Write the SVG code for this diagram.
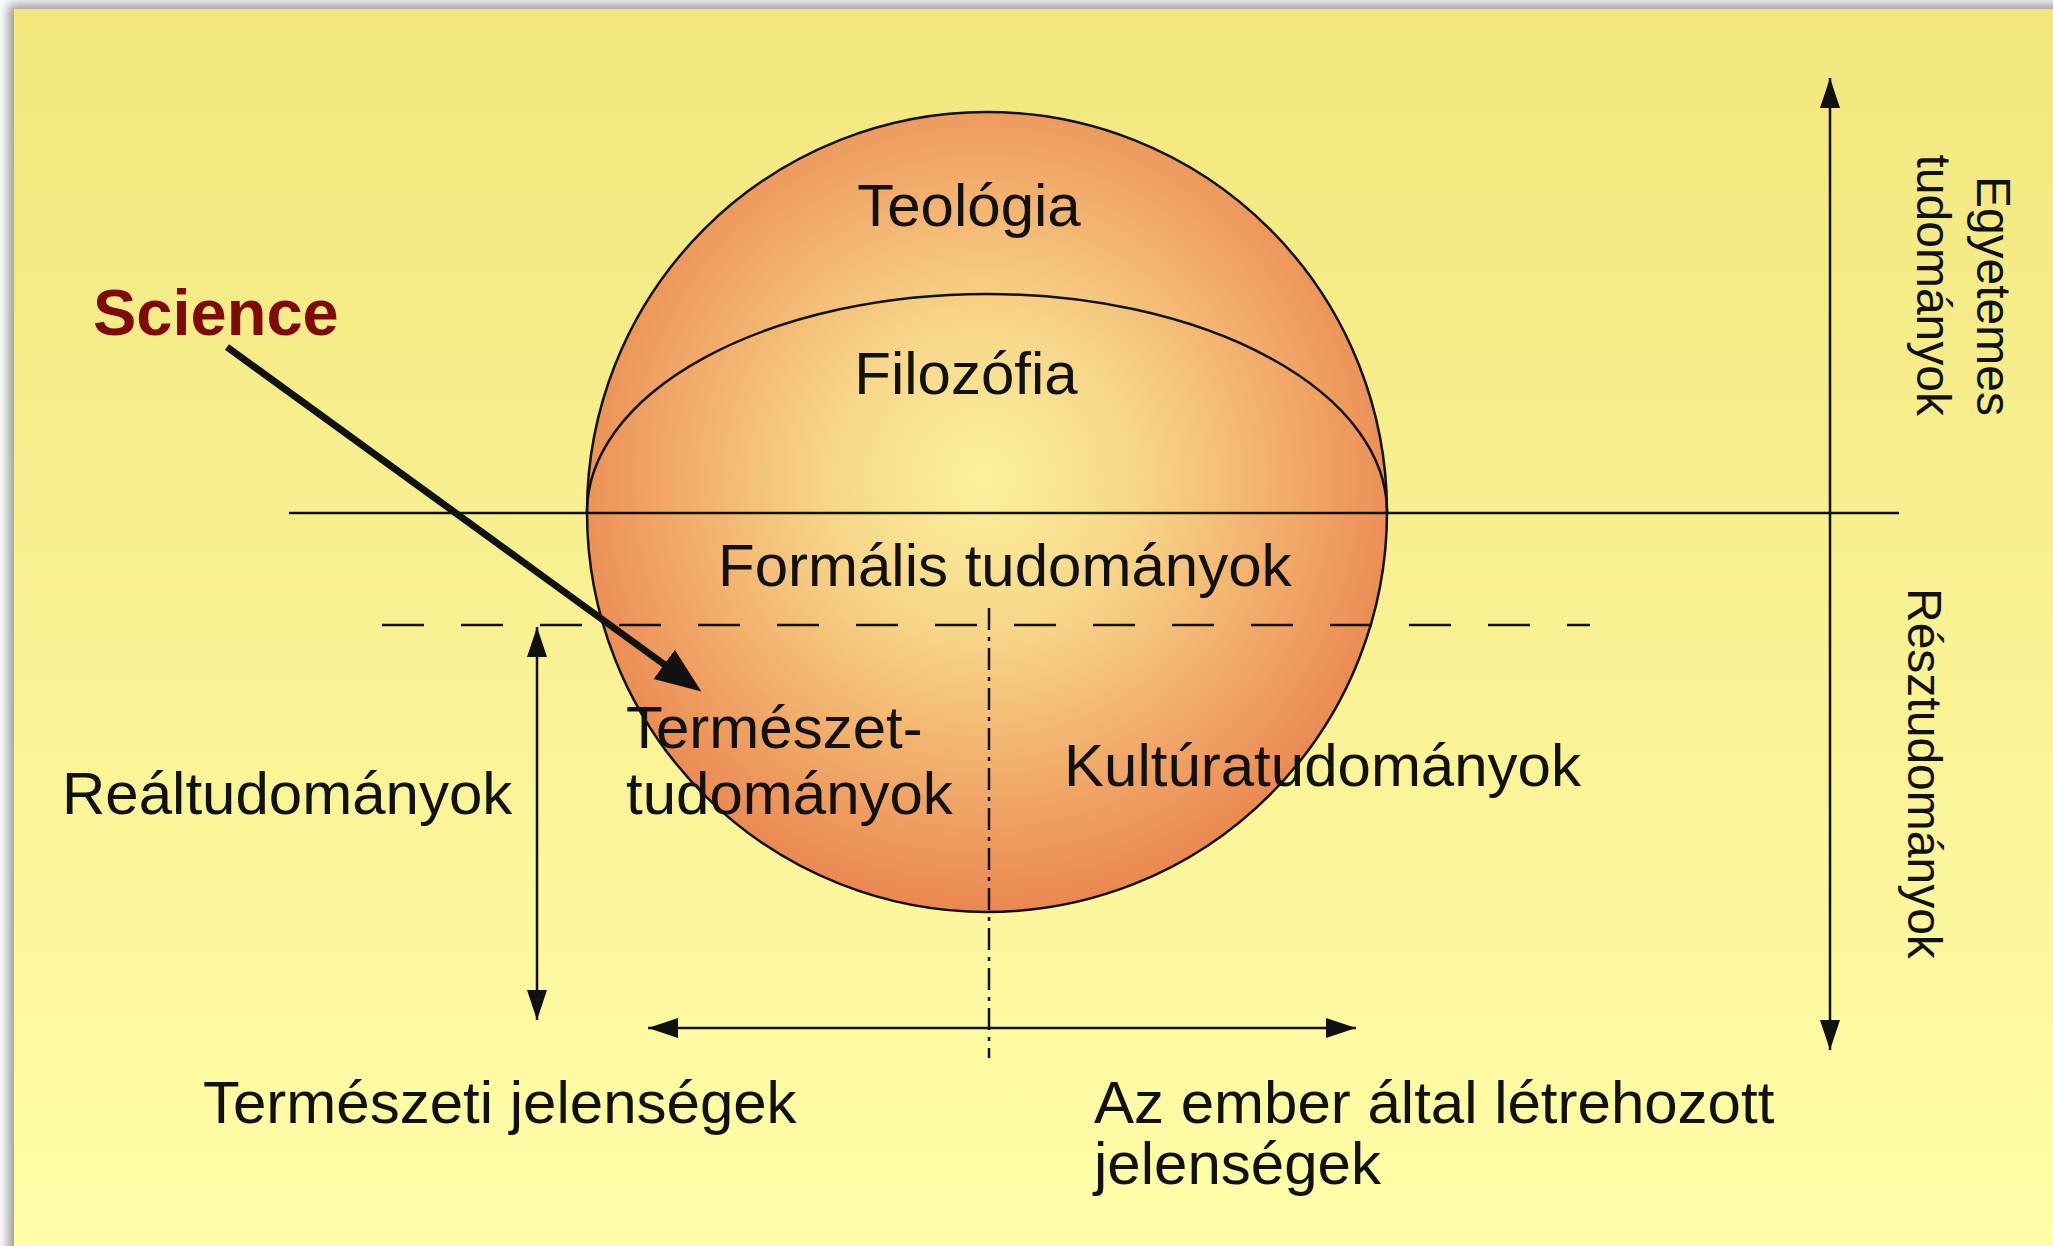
<svg xmlns="http://www.w3.org/2000/svg" width="2053" height="1246" viewBox="0 0 2053 1246">
<style>
text { font-family: "Liberation Sans", Arial, sans-serif; fill: #111; }
.lbl { font-size: 60px; }
.vlbl { font-size: 48px; }
.thin { stroke: #111; stroke-width: 2.5; fill: none; }
</style>
<defs>
<linearGradient id="bg" x1="0" y1="0" x2="0" y2="1">
<stop offset="0" stop-color="#F2E67D"/>
<stop offset="1" stop-color="#FFFDA8"/>
</linearGradient>
<radialGradient id="ball" gradientUnits="userSpaceOnUse" cx="983" cy="477" r="440">
<stop offset="0" stop-color="#FBF29E"/>
<stop offset="0.35" stop-color="#F7D68A"/>
<stop offset="0.7" stop-color="#F1AA6A"/>
<stop offset="1" stop-color="#EA8650"/>
</radialGradient>
<filter id="sh" x="-5%" y="-5%" width="110%" height="110%">
<feGaussianBlur stdDeviation="6"/>
</filter>
<marker id="ah" markerUnits="userSpaceOnUse" markerWidth="30" markerHeight="22" refX="30" refY="11" orient="auto-start-reverse">
<path d="M0,1 L30,11 L0,21 z" fill="#111"/>
</marker>
<marker id="ahBig" markerUnits="userSpaceOnUse" markerWidth="48" markerHeight="38" refX="1" refY="19" orient="auto">
<path d="M0,1 L46,19 L0,37 z" fill="#111"/>
</marker>
</defs>

<g id="background">
<rect x="0" y="0" width="2053" height="1246" fill="#FFFFFF"/>
<rect x="8" y="4" width="2100" height="1300" fill="#9A9A9A" filter="url(#sh)"/>
<rect x="14" y="9" width="2039" height="1237" fill="url(#bg)"/>
</g>

<g id="sphere">
<circle cx="987" cy="512" r="400" fill="url(#ball)" stroke="#111" stroke-width="2.5"/>
<path d="M587,512 A400,218 0 0 1 1387,512" fill="none" stroke="#111" stroke-width="2.5"/>
</g>

<g id="connectors">
<line id="axis-h" x1="289" y1="513" x2="1899" y2="513" class="thin" stroke-width="3"/>
<line id="dashed-h" x1="382" y1="625" x2="1590" y2="625" class="thin" stroke-width="3" stroke-dasharray="42 37"/>
<line id="dashdot-v" x1="989" y1="608" x2="989" y2="1058" class="thin" stroke-width="2.5" stroke-dasharray="22 7 4 7"/>
<line id="arrow-right-v" x1="1830" y1="78" x2="1830" y2="1050" class="thin" marker-start="url(#ah)" marker-end="url(#ah)"/>
<line id="arrow-left-v" x1="537" y1="627" x2="537" y2="1020" class="thin" marker-start="url(#ah)" marker-end="url(#ah)"/>
<line id="arrow-h" x1="648" y1="1028" x2="1356" y2="1028" class="thin" marker-start="url(#ah)" marker-end="url(#ah)"/>
<line id="arrow-science" x1="227" y1="347" x2="665" y2="665" stroke="#111" stroke-width="7" marker-end="url(#ahBig)"/>
</g>

<g id="node-teologia"><text class="lbl" x="969" y="226" text-anchor="middle">Teológia</text></g>
<g id="node-filozofia"><text class="lbl" x="966" y="394" text-anchor="middle">Filozófia</text></g>
<g id="node-formalis"><text class="lbl" x="718" y="586">Formális tudományok</text></g>
<g id="node-science"><text x="93" y="335" font-size="65" font-weight="bold" style="fill:#7E0A0A">Science</text></g>
<g id="node-termeszettud">
<text class="lbl" x="626" y="748">Természet-</text>
<text class="lbl" x="626" y="814">tudományok</text>
</g>
<g id="node-kultura"><text class="lbl" x="1064" y="786">Kultúratudományok</text></g>
<g id="node-real"><text class="lbl" x="62" y="814">Reáltudományok</text></g>
<g id="node-termeszeti"><text class="lbl" x="203" y="1123">Természeti jelenségek</text></g>
<g id="node-ember">
<text class="lbl" x="1094" y="1123">Az ember által létrehozott</text>
<text class="lbl" x="1094" y="1184">jelenségek</text>
</g>
<g id="node-egyetemes">
<text class="vlbl" transform="translate(1977,416) rotate(90)" text-anchor="end">Egyetemes</text>
<text class="vlbl" transform="translate(1917,416) rotate(90)" text-anchor="end">tudományok</text>
</g>
<g id="node-reszt">
<text class="vlbl" transform="translate(1908,588) rotate(90)">Résztudományok</text>
</g>
</svg>
